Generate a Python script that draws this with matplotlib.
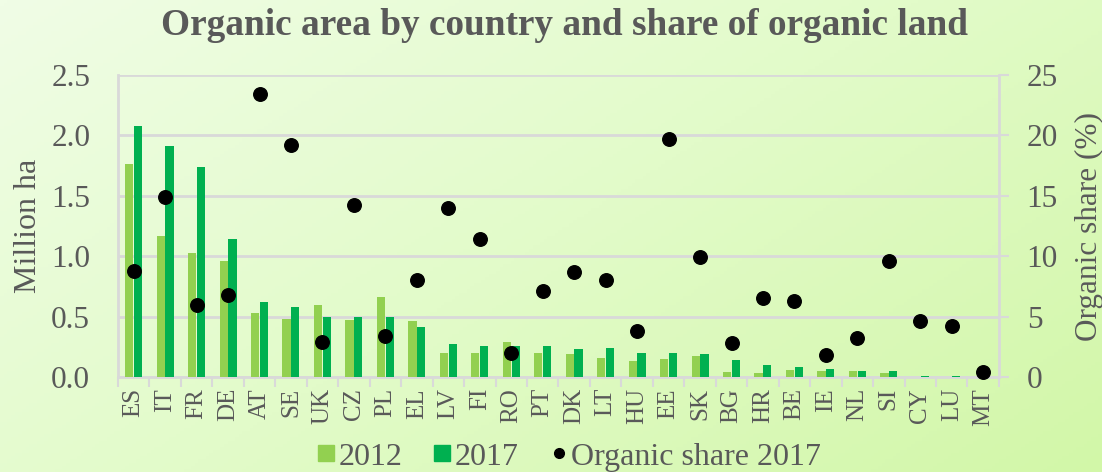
import numpy as np
import matplotlib
matplotlib.use("Agg")
import matplotlib.pyplot as plt
from matplotlib.colors import LinearSegmentedColormap
from matplotlib.lines import Line2D

countries = ["ES", "IT", "FR", "DE", "AT", "SE", "UK", "CZ", "PL", "EL", "LV", "FI", "RO", "PT",
             "DK", "LT", "HU", "EE", "SK", "BG", "HR", "BE", "IE", "NL", "SI", "CY", "LU", "MT"]
area_2012 = [1.76, 1.17, 1.03, 0.96, 0.53, 0.48, 0.60, 0.47, 0.66, 0.46, 0.20, 0.20, 0.29, 0.20,
             0.19, 0.16, 0.13, 0.15, 0.17, 0.04, 0.03, 0.06, 0.05, 0.05, 0.03, 0.004, 0.004, 0.0003]
area_2017 = [2.08, 1.91, 1.74, 1.14, 0.62, 0.58, 0.50, 0.50, 0.50, 0.41, 0.27, 0.26, 0.26, 0.26,
             0.23, 0.24, 0.20, 0.20, 0.19, 0.14, 0.10, 0.08, 0.07, 0.05, 0.05, 0.006, 0.005, 0.0004]
share_2017 = [8.8, 14.9, 6.0, 6.8, 23.4, 19.2, 2.9, 14.2, 3.4, 8.0, 14.0, 11.4, 2.0, 7.1,
              8.7, 8.0, 3.8, 19.7, 9.9, 2.8, 6.5, 6.3, 1.8, 3.2, 9.6, 4.6, 4.2, 0.4]

c2012 = "#92D050"
c2017 = "#00B050"
txt = "#595959"
grid = "#D9D9D9"
serif = ["Liberation Serif", "DejaVu Serif"]

plt.rcParams["font.family"] = serif

fig = plt.figure(figsize=(11.02, 4.72), dpi=100)

# gradient background
bg = fig.add_axes([0, 0, 1, 1], zorder=-10)
cmap = LinearSegmentedColormap.from_list("bg", ["#F0FDE6", "#E2FBC9", "#D2F7A8"])
gx, gy = np.meshgrid(np.linspace(0, 1, 300), np.linspace(0, 1, 150))
bg.imshow(0.6 * gx + 0.4 * gy, cmap=cmap, aspect="auto", extent=[0, 1, 1, 0])
bg.axis("off")

ax = fig.add_axes([0.107, 0.2013, 0.7995, 0.6397])
ax.set_facecolor("none")
x = np.arange(len(countries))
w = 0.26
ax.bar(x - 0.14, area_2012, w, color=c2012, zorder=3)
ax.bar(x + 0.14, area_2017, w, color=c2017, zorder=3)
ax.set_xlim(-0.5, len(countries) - 0.5)
ax.set_ylim(0, 2.5)
ax.set_yticks(np.arange(0, 2.51, 0.5))
ax.set_yticklabels([f"{v:.1f}" for v in np.arange(0, 2.51, 0.5)])
ax.yaxis.grid(True, color=grid, linewidth=2, zorder=0)
ax.set_axisbelow(True)
ax.set_xticks(x)
ax.set_xticklabels(countries, rotation=90, fontsize=18, color=txt)
ax.set_xticks(np.arange(-0.5, len(countries)), minor=True)
ax.tick_params(axis="x", which="major", length=0, pad=8)
ax.tick_params(axis="x", which="minor", length=7, width=1.5, color=grid)
ax.tick_params(axis="y", length=0, labelsize=22.5, labelcolor=txt, pad=20)
for s in ["top", "right"]:
    ax.spines[s].set_visible(False)
for s in ["left", "bottom"]:
    ax.spines[s].set_color(grid)
    ax.spines[s].set_linewidth(2)
ax.set_ylabel("Million ha", fontsize=23, color=txt, labelpad=6)

ax2 = ax.twinx()
ax2.scatter(x, share_2017, s=95, color="black", zorder=5, clip_on=False)
ax2.set_ylim(0, 25)
ax2.set_yticks(np.arange(0, 26, 5))
ax2.tick_params(axis="y", length=7, width=1.5, color=grid, labelsize=22.5, labelcolor=txt, pad=13)
for s in ["top", "left", "bottom"]:
    ax2.spines[s].set_visible(False)
ax2.spines["right"].set_color(grid)
ax2.spines["right"].set_linewidth(2)
ax2.set_ylabel("Organic share (%)", fontsize=22.5, color=txt, labelpad=12)

fig.text(0.512, 0.947, "Organic area by country and share of organic land", fontsize=26.8,
         fontweight="bold", color=txt, ha="center", va="center")

handles = [
    Line2D([], [], marker="s", linestyle="none", color=c2012, markersize=11),
    Line2D([], [], marker="s", linestyle="none", color=c2017, markersize=11),
    Line2D([], [], marker="o", linestyle="none", color="black", markersize=7),
]
fig.legend(handles, ["2012", "2017", "Organic share 2017"], loc="center",
           bbox_to_anchor=(0.516, 0.032), ncol=3, frameon=False, fontsize=23,
           labelcolor=txt, handletextpad=0.1, columnspacing=0.95, handlelength=0.6)

fig.savefig("out.png", dpi=100)
